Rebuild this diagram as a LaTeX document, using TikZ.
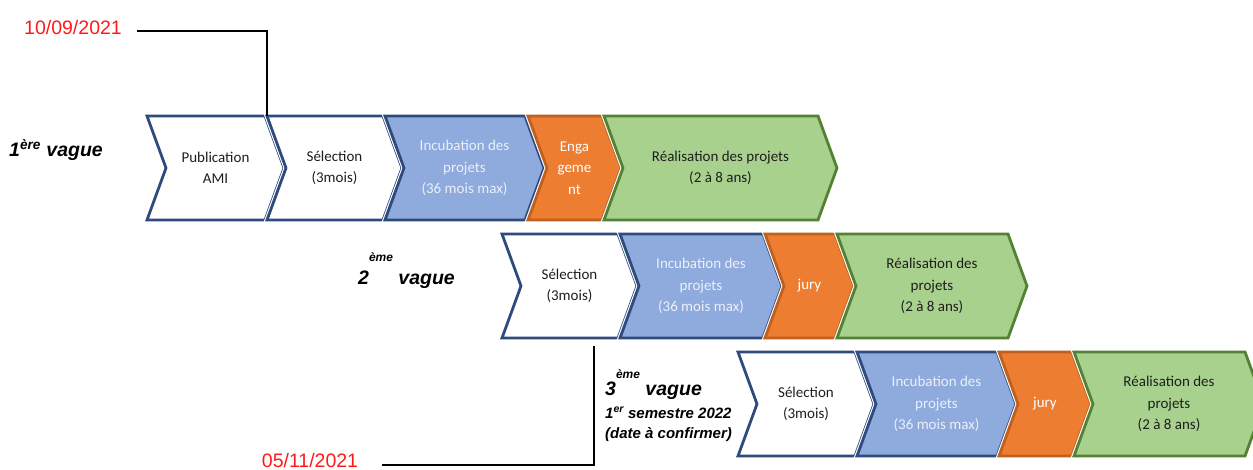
\documentclass[tikz,border=0pt]{standalone}
\usepackage{fontspec}
\setmainfont{Carlito}
\newfontfamily\arial{Liberation Sans}
\usetikzlibrary{calc}

\definecolor{navy}{HTML}{2F4A7D}
\definecolor{hblau}{HTML}{8FAADC}
\definecolor{horange}{HTML}{ED7D31}
\definecolor{dorange}{HTML}{C0601F}
\definecolor{hgruen}{HTML}{A9D18E}
\definecolor{dgruen}{HTML}{548235}
\definecolor{schrift}{HTML}{1E1E1E}
\definecolor{blautext}{HTML}{EBF0F9}
\definecolor{datumrot}{HTML}{FF1A1A}

\newcommand{\tiefe}{19}
% Etappe: Name, x links, x rechts, y oben, Stil, Text
\newcommand{\etappe}[6]{%
  \draw[#5] (#2,#4) coordinate (#1-nw) -- (#3,#4) -- ++(\tiefe,52) -- ++(-\tiefe,52)
        -- (#2,#4+104) coordinate (#1-sw) -- ++(\tiefe,-52) -- cycle;
  \node[etext, #5 text] (#1) at ({(#2+#3)/2+\tiefe/2},#4+52) {#6};
}
\newcommand{\hoch}[2]{\raisebox{#1pt}{\fontsize{12}{12}\selectfont #2}}

\begin{document}
\begin{tikzpicture}[x=1pt, y=-1pt,
    chevron/.style={line width=2.8pt, line join=miter, preaction={draw=white, line width=5pt}},
    weiss/.style={chevron, fill=white, draw=navy},
    blau/.style={chevron, fill=hblau, draw=navy},
    orange/.style={chevron, fill=horange, draw=dorange},
    gruen/.style={chevron, fill=hgruen, draw=dgruen},
    weiss text/.style={}, blau text/.style={text=blautext},
    orange text/.style={text=white}, gruen text/.style={},
    etext/.style={font=\fontsize{15}{21.5}\selectfont, align=center, text=schrift, inner sep=0pt},
    welle/.style={font=\arial\bfseries\itshape\fontsize{19.5}{23}\selectfont, inner sep=0pt},
    klein/.style={font=\arial\bfseries\itshape\fontsize{15}{20}\selectfont, inner sep=0pt},
    datumtext/.style={font=\arial\fontsize{19.5}{23}\selectfont, text=datumrot, inner sep=0pt},
    datum/.style={line width=2.6pt, black}]
  \clip (0,0) rectangle (1253,470);
  \useasboundingbox (0,0) rectangle (1253,470);

  %1. Welle
  \etappe{a1}{147}{265}{116}{weiss}{Publication\\AMI}
  \etappe{a2}{267}{383}{116}{weiss}{Sélection\\(3mois)}
  \etappe{a3}{385}{525}{116}{blau}{Incubation des\\projets\\(36 mois max)}
  \etappe{a4}{528}{602}{116}{orange}{Enga\\geme\\nt}
  \etappe{a5}{604}{818}{116}{gruen}{Réalisation des projets\\(2 à 8 ans)}

  %2. Welle
  \etappe{b1}{502}{618}{234}{weiss}{Sélection\\(3mois)}
  \etappe{b2}{620}{763}{234}{blau}{Incubation des\\projets\\(36 mois max)}
  \etappe{b3}{765}{835}{234}{orange}{jury}
  \etappe{b4}{837}{1008}{234}{gruen}{Réalisation des\\projets\\(2 à 8 ans)}

  %3. Welle
  \etappe{c1}{738}{855}{352}{weiss}{Sélection\\(3mois)}
  \etappe{c2}{857}{997}{352}{blau}{Incubation des\\projets\\(36 mois max)}
  \etappe{c3}{999}{1072}{352}{orange}{jury}
  \etappe{c4}{1074}{1245}{352}{gruen}{Réalisation des\\projets\\(2 à 8 ans)}

  %Beschriftung
  \node[welle, anchor=base west] (w1) at (9,157) {1\textsuperscript{ère} vague};
  \node[welle, anchor=base west] (w2) at (358,285) {2\hoch{23}{ème} vague};
  \node[welle, anchor=base west] (w3) at (605,395) {3\hoch{17}{ème} vague};
  \node[klein, anchor=base west] (w3s) at (605,418) {1\textsuperscript{er} semestre 2022};
  \node[klein, anchor=base west] (w3d) at (605,438) {(date à confirmer)};

  %Daten
  \node[datumtext, anchor=base] (d1) at (73,35) {10/09/2021};
  \node[datumtext, anchor=base] (d2) at (310,467) {05/11/2021};
  \coordinate (v3) at (594,346);
  \draw[datum] (d1.east) ++(15,3) -| (a2-nw);
  \draw[datum] (d2.east) ++(24,5) -| (v3);
\end{tikzpicture}
\end{document}
